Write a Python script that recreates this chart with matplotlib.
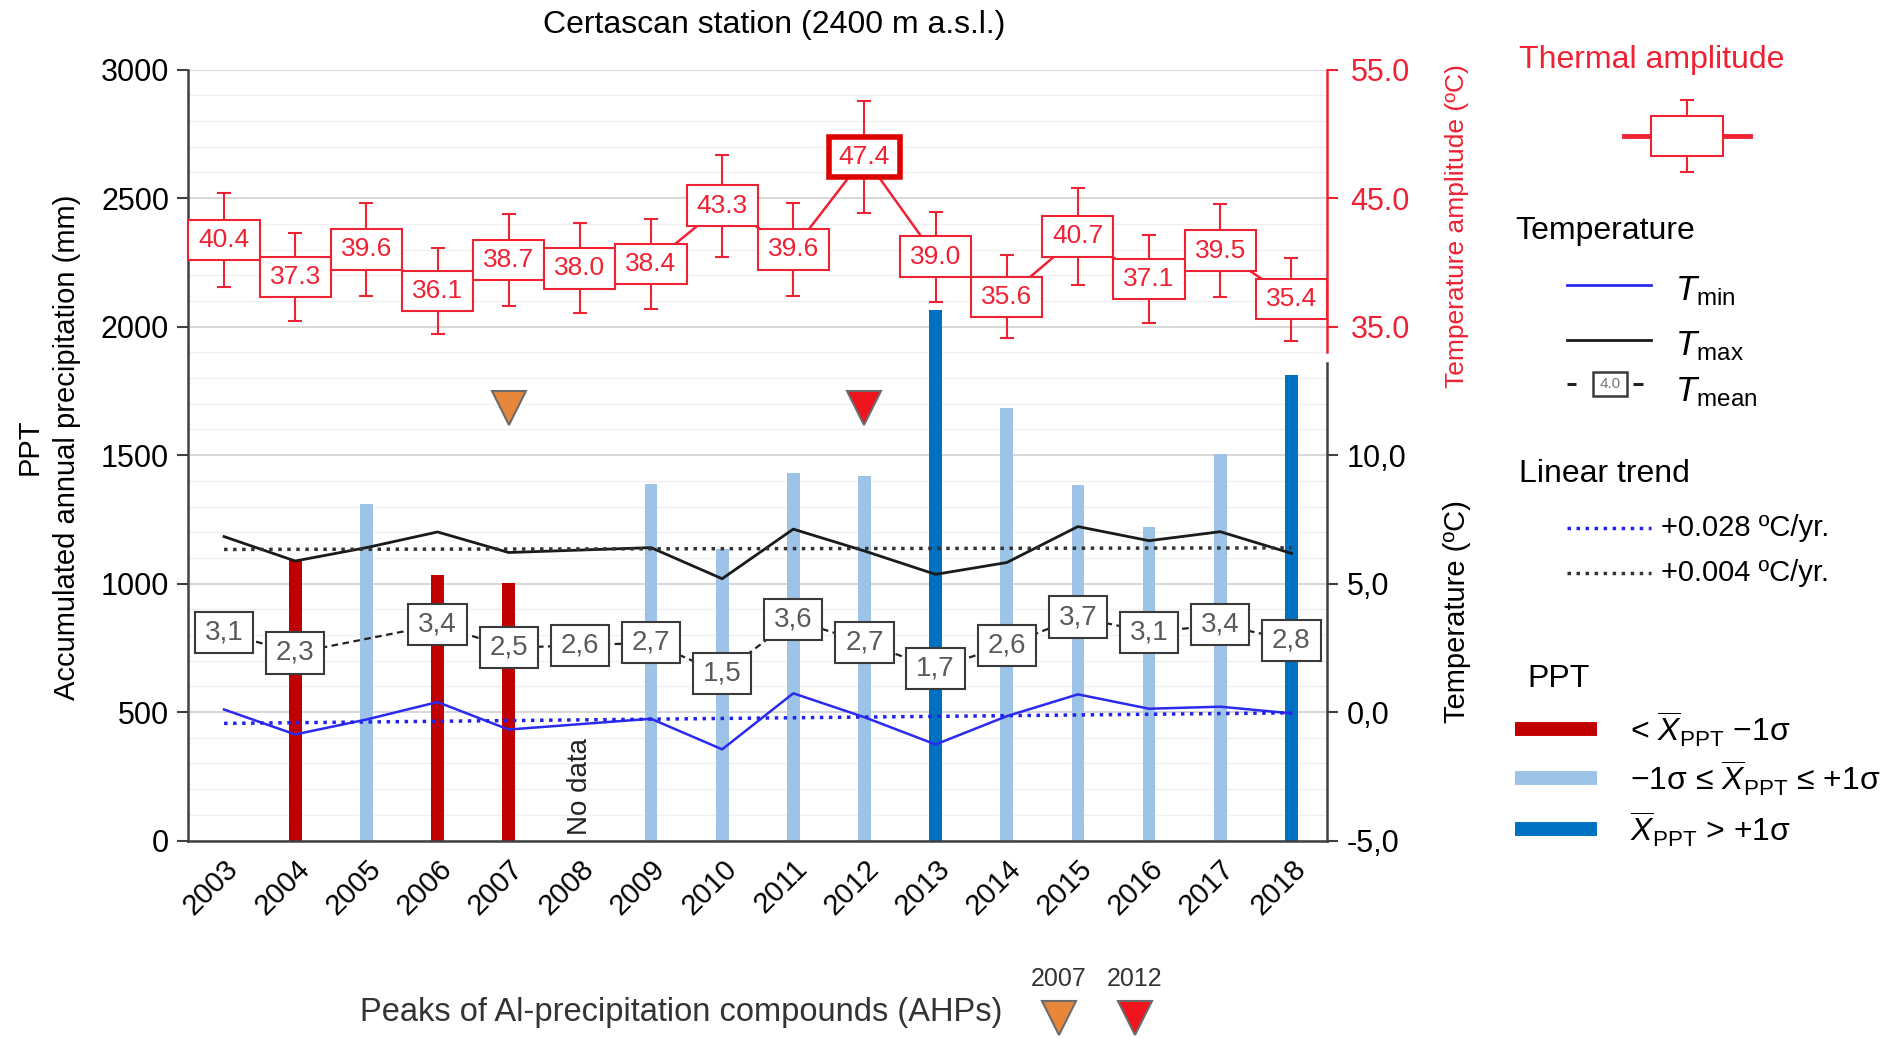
import numpy as np
import matplotlib
matplotlib.use("Agg")
import matplotlib.pyplot as plt
from matplotlib.patches import Rectangle

plt.rcParams['font.family'] = ['Liberation Sans', 'DejaVu Sans']
plt.rcParams['mathtext.fontset'] = 'custom'
plt.rcParams['mathtext.rm'] = 'Liberation Sans'
plt.rcParams['mathtext.it'] = 'Liberation Sans:italic'
plt.rcParams['mathtext.bf'] = 'Liberation Sans:bold'

# ---------------- data ----------------
years = list(range(2003, 2019))

# accumulated annual precipitation (mm), 2003 and 2008 without bar
ppt_years = [2004, 2005, 2006, 2007, 2009, 2010, 2011, 2012, 2013, 2014, 2015, 2016, 2017, 2018]
ppt_mm = [1090, 1310, 1032, 1004, 1388, 1136, 1431, 1418, 2065, 1682, 1385, 1220, 1504, 1810]
ppt_class = ['low', 'mid', 'low', 'low', 'mid', 'mid', 'mid', 'mid', 'high', 'mid', 'mid', 'mid', 'mid', 'high']
no_data_year = 2008

# temperatures (ºC)
t_years = [2003, 2004, 2005, 2006, 2007, 2009, 2010, 2011, 2012, 2013, 2014, 2015, 2016, 2017, 2018]
tmax = [6.83, 5.88, 6.40, 7.01, 6.21, 6.40, 5.19, 7.12, 6.27, 5.36, 5.82, 7.22, 6.67, 7.02, 6.18]
tmin = [0.10, -0.87, -0.29, 0.39, -0.68, -0.26, -1.45, 0.73, -0.20, -1.26, -0.16, 0.69, 0.13, 0.21, -0.05]

tmean_years = [2003, 2004, 2006, 2007, 2008, 2009, 2010, 2011, 2012, 2013, 2014, 2015, 2016, 2017, 2018]
tmean = [3.1, 2.3, 3.4, 2.5, 2.6, 2.7, 1.5, 3.6, 2.7, 1.7, 2.6, 3.7, 3.1, 3.4, 2.8]

# linear trends (value at 2003 and 2018)
trend_years = [2003, 2018]
tmin_trend = [-0.44, -0.03]
tmax_trend = [6.33, 6.39]

# thermal amplitude (ºC) and its whiskers
amp = [40.4, 37.3, 39.6, 36.1, 38.7, 38.0, 38.4, 43.3, 39.6, 47.4, 39.0, 35.6, 40.7, 37.1, 39.5, 35.4]
amp_err = [4.0, 3.7, 3.9, 3.6, 3.9, 3.8, 3.8, 4.3, 3.9, 4.7, 3.8, 3.5, 4.1, 3.7, 3.9, 3.5]
amp_peak_year = 2012

# AHP peaks
ahp_years = [2007, 2012]
ahp_level_mm = 1685

# ---------------- style ----------------
RED_BAR = '#c00000'
LIGHT_BAR = '#9dc3e6'
DARK_BAR = '#0070c0'
bar_colors = {'low': RED_BAR, 'mid': LIGHT_BAR, 'high': DARK_BAR}
AMP_RED = '#ee2233'
TMIN_BLUE = '#2a2af0'
ORANGE = '#e8873a'
AHP_RED = '#f0141e'
AXIS_GREY = '#404040'

fig = plt.figure(figsize=(18.83, 10.39), dpi=100)
ax = fig.add_axes([0.1001, 0.1910, 0.6046, 0.7419])

# precipitation bars
ax.bar(ppt_years, ppt_mm, width=0.18, color=[bar_colors[c] for c in ppt_class], zorder=2)
ax.set_xlim(2002.5, 2018.5)
ax.set_ylim(0, 3000)
ax.set_yticks(range(0, 3001, 500))
ax.set_yticks(range(0, 3001, 100), minor=True)
ax.grid(axis='y', which='major', color='#d4d4d4', lw=1.3)
ax.grid(axis='y', which='minor', color='#f0f0f0', lw=1.0)
ax.set_axisbelow(True)
ax.tick_params(axis='y', which='major', labelsize=22, length=8, width=1.5, color=AXIS_GREY, pad=6)
ax.tick_params(axis='y', which='minor', length=0)
ax.set_xticks(years)
ax.set_xticklabels([str(y) for y in years], rotation=45, ha='right', va='top',
                   rotation_mode='anchor', fontsize=21)
ax.tick_params(axis='x', length=0, pad=10)
for s in ['top', 'right']:
    ax.spines[s].set_visible(False)
for s in ['left', 'bottom']:
    ax.spines[s].set_color(AXIS_GREY)
    ax.spines[s].set_linewidth(1.8)

ax.text(no_data_year, 20, 'No data', rotation=90, ha='center', va='bottom', fontsize=20, color='#222222')
for yr, col in zip(ahp_years, [ORANGE, AHP_RED]):
    ax.plot([yr], [ahp_level_mm], ls='none', marker='v', ms=24, color=col,
            mec='#6b6b6b', mew=1.5, zorder=5)

# temperature axis (lower right)
axT = ax.twinx()
axT.set_ylim(-5, 25)
axT.plot(t_years, tmax, color='#1a1a1a', lw=2, zorder=3)
axT.plot(t_years, tmin, color=TMIN_BLUE, lw=1.8, zorder=3)
axT.plot(trend_years, tmax_trend, color='#333333', lw=2.5, ls=(0, (1, 1.6)), zorder=3)
axT.plot(trend_years, tmin_trend, color='#2222ee', lw=2.5, ls=(0, (1, 1.6)), zorder=3)
axT.plot(tmean_years, tmean, color='#222222', lw=1.6, ls=(0, (3, 2)), zorder=3)
for yr, t in zip(tmean_years, tmean):
    axT.add_patch(Rectangle((yr - 0.41, t - 0.8), 0.82, 1.6, facecolor='white',
                            edgecolor='#3a3a3a', lw=1.5, zorder=4))
    axT.text(yr, t, f'{t:.1f}'.replace('.', ','), ha='center', va='center',
             fontsize=20, color='#5a5a5a', zorder=5)
axT.set_yticks([-5, 0, 5, 10])
axT.set_yticklabels(['-5,0', '0,0', '5,0', '10,0'])
axT.tick_params(axis='y', labelsize=22, length=8, width=1.5, color=AXIS_GREY, pad=6)
for s in ['top', 'left', 'bottom']:
    axT.spines[s].set_visible(False)
axT.spines['right'].set_color(AXIS_GREY)
axT.spines['right'].set_linewidth(1.8)
axT.spines['right'].set_bounds(-5, 13.6)

# thermal amplitude scale (upper right)
axS = ax.twinx()
axS.set_ylim(-5, 55)
axS.set_yticks([35, 45, 55])
axS.set_yticklabels(['35.0', '45.0', '55.0'])
axS.tick_params(axis='y', labelsize=22, length=8, width=1.5, color=AMP_RED, labelcolor=AMP_RED, pad=9)
for s in ['top', 'left', 'bottom']:
    axS.spines[s].set_visible(False)
axS.spines['right'].set_color(AMP_RED)
axS.spines['right'].set_linewidth(1.8)
axS.spines['right'].set_bounds(33, 55)

# thermal amplitude marks
axA = ax.twinx()
axA.set_ylim(-10.30, 54.77)
axA.set_axis_off()
axA.plot(years, amp, color=AMP_RED, lw=1.8, zorder=1)
axA.errorbar(years, amp, yerr=amp_err, fmt='none', ecolor=AMP_RED, elinewidth=1.5,
             capsize=5, capthick=1.5, zorder=2)
for yr, a in zip(years, amp):
    peak = yr == amp_peak_year
    axA.add_patch(Rectangle((yr - 0.5, a - 1.7), 1.0, 3.4, facecolor='white',
                            edgecolor='#e00000' if peak else AMP_RED,
                            lw=4 if peak else 1.5, zorder=3, clip_on=False))
    axA.text(yr, a, f'{a:.1f}', ha='center', va='center', fontsize=19,
             color=AMP_RED, zorder=4)

# titles and axis labels
fig.text(0.4113, 1 - 25 / 1039, 'Certascan station (2400 m a.s.l.)', ha='center', va='center', fontsize=23)
fig.text(30 / 1883, 1 - 447 / 1039, 'PPT', rotation=90, ha='center', va='center', fontsize=21)
fig.text(67 / 1883, 1 - 447 / 1039, 'Accumulated annual precipitation (mm)', rotation=90,
         ha='center', va='center', fontsize=21)
fig.text(1457 / 1883, 1 - 226 / 1039, 'Temperature amplitude (ºC)', rotation=90,
         ha='center', va='center', fontsize=19, color=AMP_RED)
fig.text(1457 / 1883, 1 - 612 / 1039, 'Temperature (ºC)', rotation=90,
         ha='center', va='center', fontsize=21)

# legend panel (pixel coords)
lax = fig.add_axes([0, 0, 1, 1])
lax.set_xlim(0, 1883)
lax.set_ylim(1039, 0)
lax.set_axis_off()

lax.text(1519, 60, 'Thermal amplitude', color=AMP_RED, fontsize=23, va='center')
lax.errorbar([1687], [136], yerr=36, fmt='none', ecolor=AMP_RED, elinewidth=1.5, capsize=5, capthick=1.5)
lax.add_patch(Rectangle((1651, 116), 72, 40, facecolor='white', edgecolor=AMP_RED, lw=1.5, zorder=3))
lax.plot([1624, 1651], [136, 136], color=AMP_RED, lw=3.5)
lax.plot([1723, 1750], [136, 136], color=AMP_RED, lw=3.5)

lax.text(1515, 231, 'Temperature', fontsize=23, va='center')
lax.plot([1567, 1651], [285, 285], color=TMIN_BLUE, lw=2)
lax.text(1675, 291, r'$T_{\mathrm{min}}$', fontsize=25, va='center')
lax.plot([1567, 1651], [340, 340], color='#1a1a1a', lw=2)
lax.text(1675, 346, r'$T_{\mathrm{max}}$', fontsize=25, va='center')
lax.plot([1567, 1576], [384, 384], color='#222222', lw=2.2, solid_capstyle='butt')
lax.plot([1633, 1643], [384, 384], color='#222222', lw=2.2, solid_capstyle='butt')
lax.add_patch(Rectangle((1593, 372), 34, 24, facecolor='white', edgecolor='#3a3a3a', lw=1.8, zorder=3))
lax.text(1610, 384, '4.0', fontsize=11, color='#777777', ha='center', va='center', zorder=4)
lax.text(1675, 392, r'$T_{\mathrm{mean}}$', fontsize=25, va='center')

lax.text(1519, 474, 'Linear trend', fontsize=23, va='center')
lax.plot([1567, 1651], [528, 528], color='#2222ee', lw=2.5, ls=(0, (1, 1.6)))
lax.text(1661, 528, '+0.028 ºC/yr.', fontsize=21, va='center')
lax.plot([1567, 1651], [573, 573], color='#333333', lw=2.5, ls=(0, (1, 1.6)))
lax.text(1661, 573, '+0.004 ºC/yr.', fontsize=21, va='center')

lax.text(1527, 679, 'PPT', fontsize=23, va='center')
lax.plot([1515, 1597], [729, 729], color=RED_BAR, lw=10, solid_capstyle='butt')
lax.plot([1515, 1597], [778, 778], color=LIGHT_BAR, lw=10, solid_capstyle='butt')
lax.plot([1515, 1597], [829, 829], color=DARK_BAR, lw=10, solid_capstyle='butt')
lax.text(1630, 729, r'< $\overline{X}_{\mathrm{PPT}}$ −1σ', fontsize=23, va='center')
lax.text(1630, 778, r'−1σ ≤ $\overline{X}_{\mathrm{PPT}}$ ≤ +1σ', fontsize=23, va='center')
lax.text(1630, 829, r'$\overline{X}_{\mathrm{PPT}}$ > +1σ', fontsize=23, va='center')

lax.text(360, 1012, 'Peaks of Al-precipitation compounds (AHPs)', fontsize=23.5, va='center', color='#333333')
for x, col, lab in zip([1059, 1135], [ORANGE, AHP_RED], ahp_years):
    lax.plot([x], [1018], ls='none', marker='v', ms=24, color=col, mec='#6b6b6b', mew=1.5)
    lax.text(x, 979, str(lab), fontsize=18, ha='center', va='center', color='#333333')

fig.savefig('out.png', dpi=100)
